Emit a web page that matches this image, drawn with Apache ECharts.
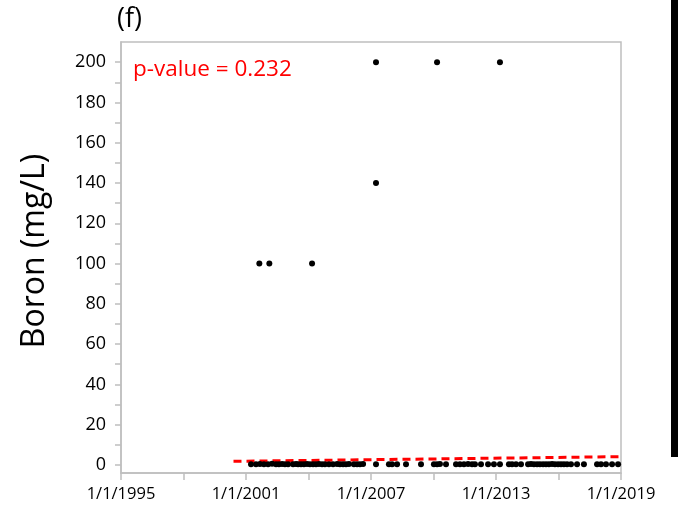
<!DOCTYPE html>
<html>
<head>
<meta charset="utf-8">
<script src="https://cdn.jsdelivr.net/npm/echarts@6/dist/echarts.min.js"></script>
<style>
  html, body { margin: 0; padding: 0; background: #fff; }
  #chart { width: 678px; height: 508px; }
</style>
</head>
<body>
<div id="chart"></div>
<script>
// Boron concentration samples (sample date as decimal year, mg/L)
const sampleYear = [
  2001.24, 2001.48, 2001.67, 2001.86, 2002.06, 2002.25, 2002.44, 2002.58, 2002.73, 2002.87,
  2003.02, 2003.26, 2003.40, 2003.50, 2003.64, 2003.78, 2003.93, 2004.07, 2004.22, 2004.36,
  2004.50, 2004.65, 2004.79, 2004.98, 2005.18, 2005.37, 2005.51, 2005.66, 2005.80, 2005.94,
  2006.18, 2006.33, 2006.47, 2006.62, 2007.24, 2007.86, 2008.01, 2008.25, 2008.68, 2009.40,
  2010.02, 2010.17, 2010.31, 2010.60, 2011.08, 2011.27, 2011.46, 2011.66, 2011.85, 2011.99,
  2012.28, 2012.62, 2012.90, 2013.19, 2013.62, 2013.77, 2013.96, 2014.20, 2014.54, 2014.68,
  2014.82, 2014.97, 2015.11, 2015.26, 2015.40, 2015.54, 2015.69, 2015.83, 2015.98, 2016.12,
  2016.26, 2016.41, 2016.60, 2016.89, 2017.22, 2017.85, 2018.04, 2018.28, 2018.57, 2018.86,
  2001.64, 2002.12, 2004.17, 2007.24, 2007.24, 2010.17, 2013.19
];
const boron = [
  0.4, 0.3, 0.5, 0.3, 0.4, 0.6, 0.3, 0.4, 0.5, 0.3,
  0.4, 0.3, 0.5, 0.4, 0.3, 0.4, 0.5, 0.3, 0.4, 0.3,
  0.5, 0.4, 0.3, 0.4, 0.3, 0.5, 0.4, 0.3, 0.4, 0.5,
  0.3, 0.4, 0.3, 0.5, 0.4, 0.3, 0.4, 0.3, 0.4, 0.3,
  0.4, 0.3, 0.5, 0.3, 0.4, 0.3, 0.4, 0.5, 0.3, 0.4,
  0.3, 0.4, 0.3, 0.4, 0.3, 0.4, 0.3, 0.4, 0.3, 0.5,
  0.4, 0.3, 0.4, 0.3, 0.4, 0.3, 0.5, 0.4, 0.3, 0.4,
  0.3, 0.4, 0.3, 0.4, 0.3, 0.4, 0.3, 0.4, 0.3, 0.4,
  100, 100, 100, 140, 200, 200, 200
];

// Linear trend endpoints
const trendYear = [2000.4, 2019];
const trendValue = [1.8, 4.1];

// Axis ticks and labels
const xLabelYears = [1995, 2001, 2007, 2013, 2019];
const yLabelValues = [0, 20, 40, 60, 80, 100, 120, 140, 160, 180, 200];
const yTickValues = [0, 10, 20, 30, 40, 50, 60, 70, 80, 90, 100, 110, 120, 130, 140, 150, 160, 170, 180, 190, 200];

const panelTag = '(f)';
const pValueText = 'p-value = 0.232';
const yAxisTitle = 'Boron (mg/L)';

const FONT = '"Open Sans", "Noto Sans", sans-serif';
const AXIS_GREY = '#bfbfbf';

const chart = echarts.init(document.getElementById('chart'), null, { renderer: 'canvas' });

chart.setOption({
  animation: false,
  backgroundColor: '#fff',
  grid: {
    left: 121, right: 57, top: 42, bottom: 35,
    show: true, borderColor: AXIS_GREY, borderWidth: 1.5, backgroundColor: 'transparent'
  },
  xAxis: {
    type: 'value',
    min: 1995, max: 2019, interval: 3,
    splitLine: { show: false },
    axisLine: { onZero: false, lineStyle: { color: AXIS_GREY, width: 1.5 } },
    axisTick: { show: true, length: 7, lineStyle: { color: AXIS_GREY, width: 1.5 } },
    axisLabel: {
      margin: 13, color: '#000', fontFamily: FONT, fontSize: 16.5,
      showMinLabel: true, showMaxLabel: true,
      formatter: v => (xLabelYears.indexOf(Math.round(v)) >= 0 ? '1/1/' + Math.round(v) : '')
    }
  },
  yAxis: {
    type: 'value',
    min: -4, max: 210,
    splitLine: { show: false },
    axisLine: { onZero: false, lineStyle: { color: AXIS_GREY, width: 1.5 } },
    axisTick: { show: true, length: 6, customValues: yTickValues, lineStyle: { color: AXIS_GREY, width: 1.5 } },
    axisLabel: {
      margin: 15, color: '#000', fontFamily: FONT, fontSize: 18,
      customValues: yLabelValues
    }
  },
  series: [
    {
      type: 'line',
      data: trendYear.map((x, i) => [x, trendValue[i]]),
      showSymbol: false,
      symbol: 'none',
      lineStyle: { color: '#ff0000', width: 3, type: [8, 5] },
      z: 2
    },
    {
      type: 'scatter',
      data: sampleYear.map((x, i) => [x, boron[i]]),
      symbol: 'circle',
      symbolSize: 6,
      itemStyle: { color: '#000', opacity: 1 },
      z: 3
    }
  ],
  graphic: [
    {
      type: 'text', left: 117, top: 6,
      style: { text: panelTag, fontFamily: FONT, fontSize: 27, fill: '#000' }
    },
    {
      type: 'text', left: 133, top: 58,
      style: { text: pValueText, fontFamily: FONT, fontSize: 22.5, fill: '#ff0000' }
    },
    {
      type: 'text', x: 35, y: 251, rotation: Math.PI / 2,
      style: { text: yAxisTitle, fontFamily: FONT, fontSize: 32, fill: '#000', align: 'center', verticalAlign: 'middle' }
    },
    {
      type: 'rect', shape: { x: 671, y: 0, width: 7, height: 457 },
      style: { fill: '#000' }
    }
  ]
});
</script>
</body>
</html>
